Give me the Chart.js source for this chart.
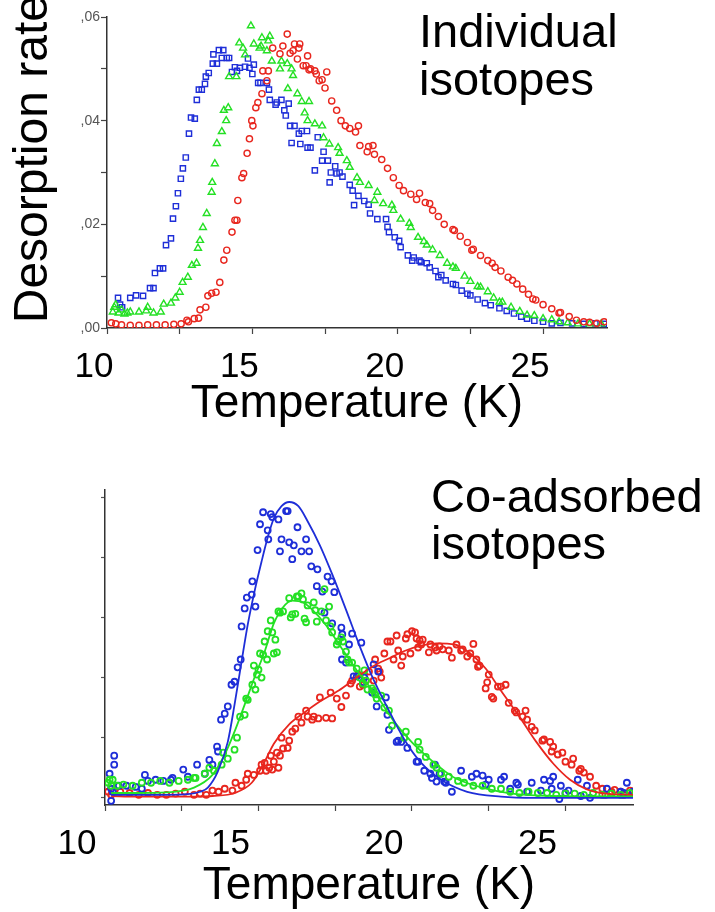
<!DOCTYPE html>
<html>
<head>
<meta charset="utf-8">
<script src="https://cdn.jsdelivr.net/npm/chart.js@4.4.1/dist/chart.umd.min.js"></script>
<style>
  body { margin: 0; background: #fff; width: 715px; height: 912px; position: relative; overflow: hidden; }
  canvas { position: absolute; left: 0; }
  #topChart { top: 0; }
  #bottomChart { top: 440px; }
  .note { position: absolute; font-family: 'Liberation Sans', Arial, sans-serif; font-size: 47px; line-height: 48px; color: #000; white-space: nowrap; }
</style>
</head>
<body>
<canvas id="topChart" width="715" height="440"></canvas>
<canvas id="bottomChart" width="715" height="472"></canvas>
<div class="note" style="left:419px; top:7px;">Individual<br>isotopes</div>
<div class="note" style="left:431px; top:472px; line-height:47px;">Co-adsorbed<br>isotopes</div>
<script>
// temperature axis (K), shared by both panels
const tempMin = 10
const tempMax = 27.2
const tempLabels = [10, 15, 20, 25]

// top panel: individual isotopes, [T (K), desorption rate]
const indivBlue = [[10.38,.0058],[10.45,.0045],[10.52,.0040],[10.8,.0058],[11.0,.0063],[11.24,.0062],[11.48,.0077],[11.6,.0077],[11.65,.0106],[11.82,.0115],[11.93,.0115],[12.03,.0160],[12.2,.0173],[12.27,.0211],[12.37,.0235],[12.44,.0260],[12.54,.0288],[12.61,.0308],[12.71,.0329],[12.82,.0375],[12.89,.0406],[13.02,.0404],[13.09,.0440],[13.16,.0460],[13.26,.0460],[13.37,.0471],[13.4,.0485],[13.5,.0492],[13.64,.0510],[13.66,.0528],[13.78,.0510],[13.85,.0536],[13.95,.0521],[14.0,.0536],[14.12,.0521],[14.2,.0521],[14.3,.0494],[14.4,.0503],[14.47,.0496],[14.57,.0502],[14.75,.0504],[14.85,.0520],[14.9,.0502],[15.0,.0490],[15.05,.0508],[15.2,.0473],[15.28,.0473],[15.5,.0473],[15.57,.0460],[15.6,.0440],[15.8,.0431],[15.84,.0435],[16.0,.0440],[16.1,.0420],[16.15,.0410],[16.25,.0433],[16.3,.0390],[16.35,.0357],[16.45,.0390],[16.6,.0375],[16.65,.0355],[16.7,.0380],[16.88,.0380],[16.9,.0348],[17.0,.0348],[17.15,.0304],[17.25,.0368],[17.4,.0323],[17.45,.0340],[17.6,.0323],[17.66,.0281],[17.7,.0300],[17.85,.0312],[17.9,.0298],[18.0,.0300],[18.1,.0292],[18.35,.0276],[18.45,.0265],[18.5,.0237],[18.65,.0255],[18.85,.0245],[19.0,.0238],[19.05,.0221],[19.3,.0210],[19.6,.0210],[19.65,.0195],[19.7,.0185],[19.9,.0175],[20.05,.0168],[20.1,.0156],[20.35,.0140],[20.5,.0130],[20.55,.0136],[20.75,.0130],[20.8,.0127],[21.0,.0125],[21.1,.0117],[21.3,.0110],[21.4,.0098],[21.5,.0102],[21.65,.0092],[21.9,.0085],[22.0,.0083],[22.2,.0072],[22.4,.0066],[22.5,.0063],[22.75,.0055],[23.0,.0048],[23.2,.0044],[23.5,.0038],[23.75,.0033],[24.0,.0028],[24.25,.0022],[24.45,.0018],[24.7,.0014],[25.0,.0012],[25.3,.0009],[25.6,.0010],[26.0,.0009],[26.4,.0008],[26.8,.0009],[27.1,.0008]]
const indivGreen = [[10.2,.0031],[10.25,.0040],[10.3,.0045],[10.4,.0029],[10.5,.0035],[10.6,.0027],[10.7,.0029],[10.8,.0031],[11.1,.0031],[11.35,.0033],[11.4,.0040],[11.6,.0029],[11.85,.0031],[11.95,.0046],[12.2,.0048],[12.35,.0058],[12.5,.0069],[12.6,.0088],[12.78,.0098],[12.92,.0121],[13.08,.0125],[13.13,.0154],[13.2,.0169],[13.3,.0194],[13.43,.0221],[13.6,.0262],[13.62,.0281],[13.71,.0317],[13.78,.0356],[13.95,.0379],[14.02,.0420],[14.1,.0400],[14.17,.0425],[14.2,.0485],[14.45,.0485],[14.55,.0550],[14.68,.0540],[14.75,.0527],[14.95,.0583],[15.05,.0548],[15.25,.0540],[15.3,.0544],[15.33,.0560],[15.5,.0535],[15.55,.0554],[15.6,.0563],[15.67,.0515],[15.95,.0500],[16.0,.0515],[16.2,.0510],[16.22,.0462],[16.35,.0500],[16.4,.0487],[16.55,.0452],[16.7,.0437],[16.8,.0415],[16.9,.0400],[16.95,.0437],[17.15,.0394],[17.4,.0390],[17.45,.0367],[17.65,.0355],[17.95,.0348],[18.0,.0337],[18.25,.0323],[18.35,.0310],[18.6,.0290],[18.7,.0281],[19.0,.0275],[19.2,.0246],[19.3,.0262],[19.5,.0240],[19.8,.0237],[19.85,.0227],[20.1,.0210],[20.4,.0202],[20.45,.0194],[20.7,.0175],[20.9,.0167],[21.0,.0160],[21.2,.0151],[21.45,.0140],[21.7,.0125],[21.9,.0118],[22.0,.0115],[22.3,.0100],[22.5,.0090],[22.75,.0080],[22.85,.0079],[23.1,.0070],[23.3,.0058],[23.5,.0050],[23.6,.0050],[23.9,.0040],[24.2,.0032],[24.45,.0025],[24.7,.0024],[25.0,.0018],[25.3,.0016],[25.55,.0012],[25.85,.0010],[26.2,.0008],[26.6,.0008],[27.0,.0008]]
const indivRed = [[10.15,.0010],[10.3,.0008],[10.5,.0006],[10.8,.0005],[11.1,.0005],[11.4,.0006],[11.7,.0006],[12.0,.0006],[12.3,.0007],[12.55,.0008],[12.75,.0015],[12.8,.0012],[13.0,.0018],[13.15,.0019],[13.2,.0035],[13.4,.0040],[13.47,.0062],[13.6,.0067],[13.75,.0069],[13.88,.0088],[14.02,.0131],[14.12,.0150],[14.3,.0185],[14.4,.0208],[14.47,.0208],[14.5,.0246],[14.64,.0290],[14.7,.0298],[14.82,.0337],[14.9,.0365],[14.98,.0400],[15.02,.0390],[15.12,.0425],[15.19,.0435],[15.33,.0452],[15.36,.0496],[15.5,.0477],[15.55,.0496],[15.7,.0540],[15.95,.0529],[16.05,.0544],[16.2,.0567],[16.3,.0530],[16.4,.0535],[16.45,.0548],[16.55,.0519],[16.6,.0540],[16.63,.0548],[16.75,.0506],[16.85,.0506],[16.9,.0525],[16.95,.0498],[17.0,.0500],[17.15,.0496],[17.2,.0490],[17.3,.0477],[17.4,.0479],[17.5,.0463],[17.56,.0494],[17.73,.0438],[17.9,.0420],[18.05,.0400],[18.2,.0390],[18.35,.0385],[18.55,.0378],[18.65,.0390],[18.7,.0352],[18.95,.0340],[19.0,.0350],[19.15,.0352],[19.2,.0335],[19.45,.0325],[19.65,.0308],[19.85,.0290],[20.05,.0275],[20.2,.0265],[20.45,.0258],[20.65,.0248],[20.75,.0260],[20.95,.0242],[21.1,.0240],[21.2,.0227],[21.4,.0215],[21.6,.0200],[21.9,.0190],[21.95,.0188],[22.15,.0177],[22.4,.0165],[22.55,.0150],[22.6,.0152],[22.85,.0140],[23.1,.0130],[23.25,.0125],[23.35,.0117],[23.55,.0110],[23.8,.0098],[23.95,.0092],[24.1,.0085],[24.3,.0075],[24.5,.0065],[24.65,.0056],[24.75,.0054],[25.0,.0045],[25.3,.0037],[25.55,.0029],[25.6,.0030],[25.9,.0022],[26.15,.0015],[26.4,.0012],[26.6,.0011],[26.85,.0009],[27.1,.0012]]

// bottom panel: co-adsorbed isotopes, [T (K), rate in arb. units]
const coadsBlue = [[10.15,.40],[10.2,.15],[10.2,-.05],[10.25,.10],[10.3,.55],[10.3,.70],[10.45,.20],[10.7,.20],[11.0,.18],[11.2,.15],[11.3,.38],[11.4,.28],[11.65,.30],[11.9,.28],[12.15,.30],[12.2,.33],[12.55,.47],[12.7,.35],[13.0,.55],[13.25,.40],[13.4,.63],[13.5,.55],[13.65,.85],[13.68,.77],[13.78,1.30],[13.9,1.40],[14.0,1.52],[14.12,1.88],[14.22,1.93],[14.32,2.17],[14.42,2.30],[14.45,2.85],[14.55,3.15],[14.62,3.33],[14.78,3.38],[14.8,3.60],[14.9,3.18],[14.97,4.12],[15.05,4.55],[15.15,4.75],[15.3,4.45],[15.32,4.30],[15.4,4.72],[15.45,4.67],[15.65,4.63],[15.7,4.10],[15.75,4.30],[15.9,4.77],[15.95,4.77],[16.0,4.25],[16.1,3.97],[16.15,4.20],[16.27,4.50],[16.4,4.10],[16.55,4.30],[16.65,4.10],[16.72,3.85],[16.9,3.52],[16.92,3.80],[17.08,3.43],[17.15,3.08],[17.25,3.68],[17.38,3.60],[17.4,2.90],[17.47,3.42],[17.7,2.83],[17.72,2.30],[17.73,2.72],[17.85,2.25],[17.95,2.55],[18.05,2.73],[18.1,2.02],[18.2,2.02],[18.35,2.58],[18.4,1.92],[18.45,2.00],[18.7,1.75],[18.75,2.22],[18.85,1.52],[18.9,2.10],[19.15,1.67],[19.2,1.38],[19.25,1.13],[19.5,0.93],[19.55,0.95],[19.65,0.93],[19.85,0.83],[20.15,0.60],[20.2,0.60],[20.4,0.45],[20.6,0.40],[20.65,0.33],[20.75,0.55],[20.8,0.27],[20.9,0.40],[21.05,0.27],[21.1,0.25],[21.3,0.10],[21.6,0.45],[21.95,0.35],[22.1,0.40],[22.3,0.37],[22.4,0.22],[22.5,0.30],[22.9,0.30],[23.0,0.35],[23.2,0.15],[23.4,0.25],[23.45,0.22],[23.75,0.10],[23.9,0.25],[24.2,0.12],[24.3,0.30],[24.5,0.28],[24.55,0.15],[24.6,0.35],[24.8,-0.02],[24.85,0.20],[25.0,0.08],[25.1,0.12],[25.4,0.30],[25.5,0.03],[25.7,0.20],[25.8,0.00],[26.35,0.15],[26.8,0.10],[26.9,0.08],[27.0,0.25],[27.2,0.10]]
const coadsGreen = [[10.1,.25],[10.15,.30],[10.2,.20],[10.25,.30],[10.4,.20],[10.6,.22],[10.9,.20],[11.2,.25],[11.5,.25],[11.8,.28],[12.1,.25],[12.4,.28],[12.7,.30],[12.9,.33],[12.95,.33],[13.25,.40],[13.4,.50],[13.55,.45],[13.8,.55],[13.85,.75],[14.0,.65],[14.22,.80],[14.3,1.00],[14.4,1.35],[14.55,1.38],[14.6,1.65],[14.65,1.63],[14.8,1.88],[14.85,2.20],[14.9,1.80],[14.95,2.05],[15.0,2.13],[15.05,2.40],[15.1,2.00],[15.15,2.38],[15.2,2.60],[15.28,2.30],[15.3,2.77],[15.4,2.95],[15.45,2.75],[15.5,2.40],[15.55,2.63],[15.6,2.42],[15.65,3.10],[15.7,3.08],[15.8,3.10],[16.0,3.32],[16.05,3.00],[16.1,3.05],[16.2,3.06],[16.25,3.35],[16.3,3.35],[16.4,3.40],[16.45,3.30],[16.5,2.98],[16.55,2.92],[16.6,3.20],[16.8,3.25],[16.85,3.12],[16.9,2.93],[17.05,3.10],[17.15,3.47],[17.2,2.95],[17.3,3.18],[17.35,2.85],[17.4,2.75],[17.55,2.55],[17.6,2.60],[17.7,2.67],[17.75,2.60],[17.85,2.43],[17.9,2.30],[17.95,2.25],[18.05,2.25],[18.2,2.15],[18.3,2.00],[18.4,1.90],[18.45,2.12],[18.5,1.95],[18.55,1.80],[18.7,1.82],[18.75,1.78],[18.8,1.72],[18.85,1.65],[19.0,1.70],[19.1,1.50],[19.25,1.45],[19.35,1.20],[19.75,1.00],[19.8,1.10],[20.2,0.93],[20.25,0.80],[20.45,0.68],[20.7,0.55],[20.8,0.50],[20.95,0.40],[21.2,0.35],[21.5,0.28],[21.7,0.25],[22.0,0.20],[22.3,0.20],[22.6,0.15],[22.9,0.15],[23.2,0.10],[23.5,0.08],[23.8,0.10],[24.1,0.08],[24.4,0.08],[24.7,0.05],[25.0,0.07],[25.3,0.07],[25.6,0.05],[25.9,0.08],[26.2,0.05],[26.5,0.07],[26.8,0.05],[27.1,0.08]]
const coadsRed = [[10.1,.10],[10.2,.05],[10.3,.12],[10.5,.10],[10.8,.08],[11.1,.05],[11.4,.08],[11.7,.05],[12.0,.05],[12.3,.07],[12.6,.10],[12.9,.05],[13.1,.07],[13.3,.05],[13.5,.12],[13.7,.10],[13.9,.15],[14.15,.12],[14.25,.25],[14.45,.20],[14.6,.30],[14.65,.40],[14.85,.38],[15.05,.45],[15.1,.55],[15.2,.58],[15.25,.45],[15.35,.50],[15.4,.70],[15.45,.47],[15.5,.60],[15.6,.75],[15.65,.50],[15.7,.70],[15.75,1.00],[15.8,.82],[15.95,.83],[16.0,.95],[16.1,1.10],[16.2,1.15],[16.3,1.35],[16.4,1.25],[16.55,1.45],[16.6,1.35],[16.75,1.30],[16.8,1.35],[16.95,1.32],[17.0,1.67],[17.2,1.33],[17.35,1.75],[17.4,1.32],[17.55,1.65],[17.7,1.51],[17.85,1.70],[18.0,1.90],[18.05,1.95],[18.25,2.05],[18.3,1.85],[18.4,1.88],[18.5,1.95],[18.6,2.10],[18.75,1.95],[18.8,2.30],[18.9,2.15],[18.95,2.10],[19.0,2.00],[19.1,2.40],[19.2,2.60],[19.3,2.60],[19.4,2.30],[19.5,2.70],[19.55,2.45],[19.65,2.20],[19.7,2.35],[19.8,2.65],[19.85,2.72],[19.95,2.40],[20.0,2.77],[20.1,2.75],[20.15,2.65],[20.2,2.50],[20.25,2.62],[20.3,2.55],[20.35,2.63],[20.55,2.42],[20.6,2.55],[20.75,2.50],[20.8,2.45],[20.9,2.52],[21.0,2.47],[21.2,2.45],[21.3,2.33],[21.45,2.55],[21.6,2.45],[21.65,2.47],[21.8,2.35],[21.9,2.40],[22.0,2.56],[22.1,2.30],[22.15,2.18],[22.2,2.20],[22.4,1.82],[22.45,1.92],[22.5,2.05],[22.6,1.68],[22.65,1.65],[22.8,1.85],[22.9,1.85],[23.05,1.88],[23.15,1.58],[23.35,1.45],[23.4,1.42],[23.6,1.35],[23.7,1.45],[23.75,1.30],[23.9,1.18],[24.0,1.12],[24.25,0.95],[24.3,0.97],[24.5,0.93],[24.55,0.77],[24.6,0.85],[24.75,0.72],[24.9,0.75],[25.0,0.60],[25.2,0.55],[25.25,0.65],[25.45,0.45],[25.5,0.48],[25.6,0.42],[25.8,0.35],[26.0,0.20],[26.2,0.15],[26.3,0.05],[26.5,0.10],[26.6,0.13],[26.8,0.10],[26.9,0.05],[27.1,0.12],[27.2,0.10]]

// fitted curves of the bottom panel
const coadsBlueFit = [[10.2,.05],[11,.05],[12,.05],[12.7,.06],[13.1,.10],[13.35,.17],[13.67,.43],[14.0,.93],[14.22,1.55],[14.45,2.27],[14.65,2.88],[14.87,3.43],[15.1,3.93],[15.3,4.33],[15.5,4.65],[15.75,4.85],[16.0,4.92],[16.3,4.85],[16.6,4.60],[17.0,4.20],[17.4,3.72],[17.85,3.13],[18.3,2.52],[18.7,2.02],[19.2,1.50],[19.75,0.97],[20.3,0.58],[20.95,0.30],[21.8,0.10],[22.9,0.02],[24,0.0],[25.5,0.0],[27.2,0.0]]
const coadsGreenFit = [[10.2,.08],[11,.08],[12,.09],[12.9,.17],[13.5,.38],[13.9,.72],[14.22,1.10],[14.55,1.55],[14.87,2.00],[15.2,2.43],[15.5,2.90],[15.8,3.17],[16.1,3.28],[16.45,3.25],[16.75,3.13],[17.2,2.87],[17.73,2.47],[18.3,2.05],[18.85,1.70],[19.4,1.28],[20.0,0.92],[20.5,0.68],[21.05,0.45],[21.4,0.33],[22.35,0.16],[23.4,0.06],[24.5,0.03],[27.2,0.02]]
const coadsRedFit = [[10.2,.03],[11,.02],[12,.02],[13,.02],[13.5,.03],[14.22,.08],[14.78,.25],[15.2,.60],[15.5,.90],[16.0,1.22],[16.5,1.42],[17.0,1.60],[17.6,1.78],[18.2,2.00],[18.7,2.18],[19.3,2.33],[19.8,2.45],[20.3,2.53],[20.8,2.57],[21.4,2.55],[21.9,2.40],[22.4,2.15],[22.9,1.78],[23.5,1.35],[24.05,0.93],[24.6,0.57],[25.15,0.30],[25.7,0.14],[26.3,0.07],[27.2,0.05]]

const blue = '#1e2ed8'
const green = '#24e024'
const red = '#e8261e'
const family = "'Liberation Sans', Arial, sans-serif"

function toPoints(list) {
  return list.map(p => ({x: p[0], y: p[1]}))
}

function markers(list, color, style, radius, width) {
  return {
    data: toPoints(list),
    showLine: false,
    pointStyle: style,
    pointRadius: radius,
    pointBorderWidth: width,
    pointBorderColor: color,
    pointBackgroundColor: 'rgba(0,0,0,0)',
    borderColor: color
  }
}

function fitLine(list, color) {
  return {
    data: toPoints(list),
    showLine: true,
    pointRadius: 0,
    borderWidth: 1.8,
    borderColor: color,
    cubicInterpolationMode: 'monotone',
    fill: false
  }
}

function tempAxis(height, shift, titlePad) {
  return {
    type: 'linear',
    min: tempMin,
    max: tempMax,
    afterFit: s => { s.height = height },
    border: {color: '#333', width: 1.5},
    grid: {drawOnChartArea: false, tickLength: 6, tickColor: '#444', tickWidth: 1.2},
    ticks: {
      stepSize: 2.5,
      includeBounds: false,
      autoSkip: false,
      maxRotation: 0,
      labelOffset: shift,
      padding: 12,
      color: '#000',
      font: {family: family, size: 35},
      callback: v => tempLabels.includes(v) ? String(v) : ''
    },
    title: {display: true, text: 'Temperature (K)', color: '#000',
      font: {family: family, size: 46, lineHeight: 1}, padding: {top: 0, bottom: titlePad}}
  }
}

function baseOptions(pad) {
  return {
    responsive: false,
    animation: false,
    devicePixelRatio: 1,
    events: [],
    layout: {padding: pad},
    plugins: {legend: {display: false}, tooltip: {enabled: false}}
  }
}

function topChart() {
  let ctx = document.querySelector('#topChart').getContext('2d')
  let opts = baseOptions({top: 17, right: 108, bottom: 0, left: 0})
  opts.scales = {
    x: tempAxis(112, -13, 13),
    y: {
      min: 0,
      max: 0.06,
      afterFit: s => { s.width = 107 },
      border: {color: '#333', width: 1.5},
      grid: {drawOnChartArea: false, tickLength: 6, tickColor: '#444', tickWidth: 1.2},
      ticks: {
        stepSize: 0.01,
        padding: 1,
        color: '#555',
        font: {family: family, size: 14},
        callback: v => {
          let k = Math.round(v * 100)
          return k % 2 === 0 ? ',0' + k : ''
        }
      },
      title: {display: true, text: '  Desorption rate', color: '#000',
        font: {family: family, size: 48, lineHeight: 1}, padding: {top: 10, bottom: 0}}
    }
  }
  new Chart(ctx, {
    type: 'scatter',
    data: {datasets: [
      markers(indivRed, red, 'circle', 3.1, 1.4),
      markers(indivGreen, green, 'triangle', 4, 1.4),
      markers(indivBlue, blue, 'rect', 3.7, 1.4)
    ]},
    options: opts
  })
}
topChart()

function bottomChart() {
  let ctx = document.querySelector('#bottomChart').getContext('2d')
  let opts = baseOptions({top: 50, right: 82, bottom: 0, left: 0})
  opts.scales = {
    x: tempAxis(107, -28, 3),
    y: {
      min: -0.12,
      max: 5.12,
      afterFit: s => { s.width = 105 },
      border: {color: '#333', width: 1.5},
      grid: {drawOnChartArea: false, tickLength: 4, tickColor: '#555', tickWidth: 1.2},
      ticks: {stepSize: 1, includeBounds: false, font: {family: family, size: 12}, callback: () => ''}
    }
  }
  new Chart(ctx, {
    type: 'scatter',
    data: {datasets: [
      fitLine(coadsBlueFit, blue),
      fitLine(coadsGreenFit, green),
      fitLine(coadsRedFit, red),
      markers(coadsGreen, green, 'circle', 3, 1.8),
      markers(coadsBlue, blue, 'circle', 3, 1.8),
      markers(coadsRed, red, 'circle', 3, 1.8)
    ]},
    options: opts
  })
}
bottomChart()
</script>
</body>
</html>
